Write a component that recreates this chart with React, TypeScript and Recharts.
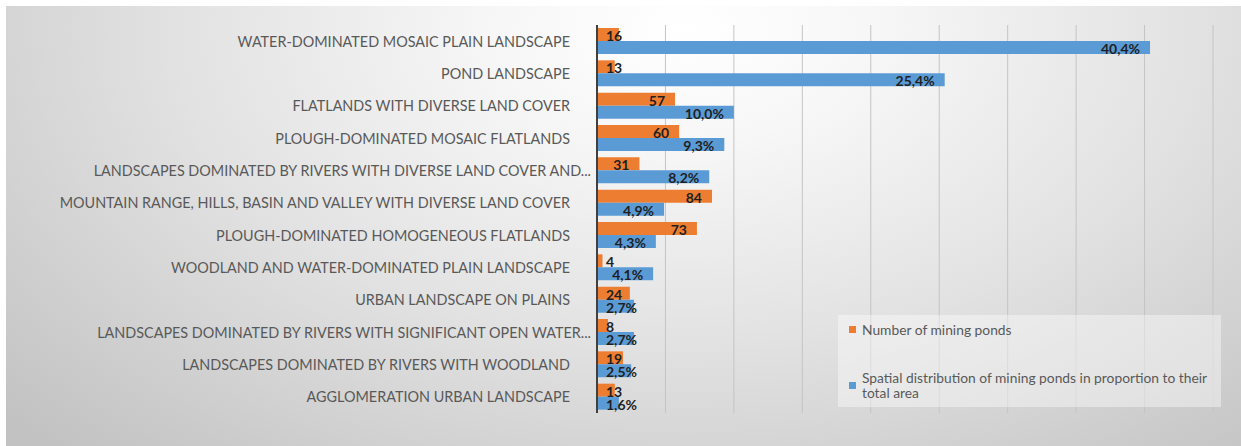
import React from 'react';
import { BarChart, Bar, XAxis, YAxis, CartesianGrid, LabelList, Legend } from 'recharts';

const categories: string[] = [
  'WATER-DOMINATED MOSAIC PLAIN LANDSCAPE',
  'POND LANDSCAPE',
  'FLATLANDS WITH DIVERSE LAND COVER',
  'PLOUGH-DOMINATED MOSAIC FLATLANDS',
  'LANDSCAPES DOMINATED BY RIVERS WITH DIVERSE LAND COVER AND...',
  'MOUNTAIN RANGE, HILLS, BASIN AND VALLEY WITH DIVERSE LAND COVER',
  'PLOUGH-DOMINATED HOMOGENEOUS FLATLANDS',
  'WOODLAND AND WATER-DOMINATED PLAIN LANDSCAPE',
  'URBAN LANDSCAPE ON PLAINS',
  'LANDSCAPES DOMINATED BY RIVERS WITH SIGNIFICANT OPEN WATER...',
  'LANDSCAPES DOMINATED BY RIVERS WITH WOODLAND',
  'AGGLOMERATION URBAN LANDSCAPE',
];
const pondCounts: number[] = [16, 13, 57, 60, 31, 84, 73, 4, 24, 8, 19, 13];
const areaShares: number[] = [40.4, 25.4, 10.0, 9.3, 8.2, 4.9, 4.3, 4.1, 2.7, 2.7, 2.5, 1.6];
const countDomain: number[] = [0, 450];
const shareDomain: number[] = [0, 45];
const shareTicks: number[] = [0, 5, 10, 15, 20, 25, 30, 35, 40, 45];
const seriesNames: string[] = [
  'Number of mining ponds',
  'Spatial distribution of mining ponds in proportion to their total area',
];

const ORANGE = '#ED7D31';
const BLUE = '#5B9BD5';
const LABEL_FONT_SIZE = 14;
const LABEL_FONT = `bold ${LABEL_FONT_SIZE}px Lato`;

let measureCtx: CanvasRenderingContext2D | null = null;
const measure = (text: string, font: string) => {
  if (!measureCtx) measureCtx = document.createElement('canvas').getContext('2d');
  if (!measureCtx) return text.length * 8;
  measureCtx.font = font;
  return measureCtx.measureText(text).width;
};

const fmtCount = (v: any) => String(v);
const fmtShare = (v: any) => Number(v).toFixed(1).replace('.', ',') + '%';

const makeLabel = (fmt: (v: any) => string) => (props: any) => {
  const vb = props.viewBox && props.viewBox.width !== undefined ? props.viewBox : props;
  const x = Number(vb.x);
  const y = Number(vb.y);
  const width = Number(vb.width);
  const height = Number(vb.height);
  const text = fmt(props.value);
  const w = measure(text, LABEL_FONT);
  const start = Math.max(x + width - 10 - w, x + 9);
  return (
    <text
      x={start}
      y={y + height / 2 + 1}
      dominantBaseline="central"
      textAnchor="start"
      fontFamily="Lato"
      fontWeight="bold"
      fontSize={LABEL_FONT_SIZE}
      fill="#1f1f1f"
    >
      {text}
    </text>
  );
};

const CategoryTick = (props: any) => {
  const { x, y, payload } = props;
  const label: string = payload.value;
  const truncated = label.endsWith('...');
  return (
    <text
      x={x - (truncated ? 6 : 27)}
      y={y}
      dominantBaseline="central"
      textAnchor="end"
      fontFamily="Lato"
      fontSize={14.4}
      fill="#595959"
    >
      {label}
    </text>
  );
};

const LegendContent = (props: any) => {
  const payload = props.payload || [];
  return (
    <div
      style={{
        width: '100%',
        height: '100%',
        boxSizing: 'border-box',
        background: 'rgba(255,255,255,0.4)',
        paddingTop: 6.5,
        display: 'flex',
        flexDirection: 'column',
        gap: 32.8,
        fontFamily: 'Lato',
        fontSize: 13.8,
        lineHeight: '15.6px',
        color: '#595959',
      }}
    >
      {payload.map((p: any, i: number) => (
        <div key={i} style={{ display: 'flex', alignItems: 'center', paddingLeft: 11 }}>
          <div style={{ width: 7, height: 7, background: p.color, flex: '0 0 7px' }} />
          <div style={{ marginLeft: 6, width: 356 }}>{p.value}</div>
        </div>
      ))}
    </div>
  );
};

export default function App() {
  const data = categories.map((c, i) => ({ name: c, count: pondCounts[i], share: areaShares[i] }));
  return (
    <div style={{ position: 'absolute', left: 0, top: 0, width: 1241, height: 446, background: '#ffffff' }}>
      <div
        style={{
          position: 'absolute',
          left: 6,
          top: 6,
          width: 1235,
          height: 440,
          background:
            'radial-gradient(ellipse 75% 130% at 55% 5%, #ffffff 0%, #f7f7f7 20%, #e2e2e2 55%, #c2c2c2 100%)',
        }}
      >
        <BarChart
          width={1235}
          height={440}
          data={data}
          layout="vertical"
          margin={{ top: 19, right: 28, bottom: 33, left: 0 }}
          barSize={13}
          barGap={0}
        >
          <CartesianGrid xAxisId="share" horizontal={false} stroke="#c4c4c4" />
          <XAxis xAxisId="count" type="number" domain={countDomain} hide />
          <XAxis xAxisId="share" type="number" domain={shareDomain} ticks={shareTicks} hide />
          <YAxis
            type="category"
            dataKey="name"
            width={591}
            interval={0}
            tickLine={false}
            tickSize={0}
            tickMargin={0}
            axisLine={{ stroke: '#404040', strokeWidth: 2 }}
            tick={<CategoryTick />}
          />
          <Legend
            layout="horizontal"
            verticalAlign="middle"
            align="center"
            wrapperStyle={{ position: 'absolute', left: 832, top: 309, width: 383, height: 92 }}
            content={<LegendContent />}
          />
          <Bar xAxisId="count" dataKey="count" name={seriesNames[0]} fill={ORANGE} isAnimationActive={false}>
            <LabelList dataKey="count" content={makeLabel(fmtCount)} />
          </Bar>
          <Bar xAxisId="share" dataKey="share" name={seriesNames[1]} fill={BLUE} isAnimationActive={false}>
            <LabelList dataKey="share" content={makeLabel(fmtShare)} />
          </Bar>
        </BarChart>
      </div>
    </div>
  );
}
